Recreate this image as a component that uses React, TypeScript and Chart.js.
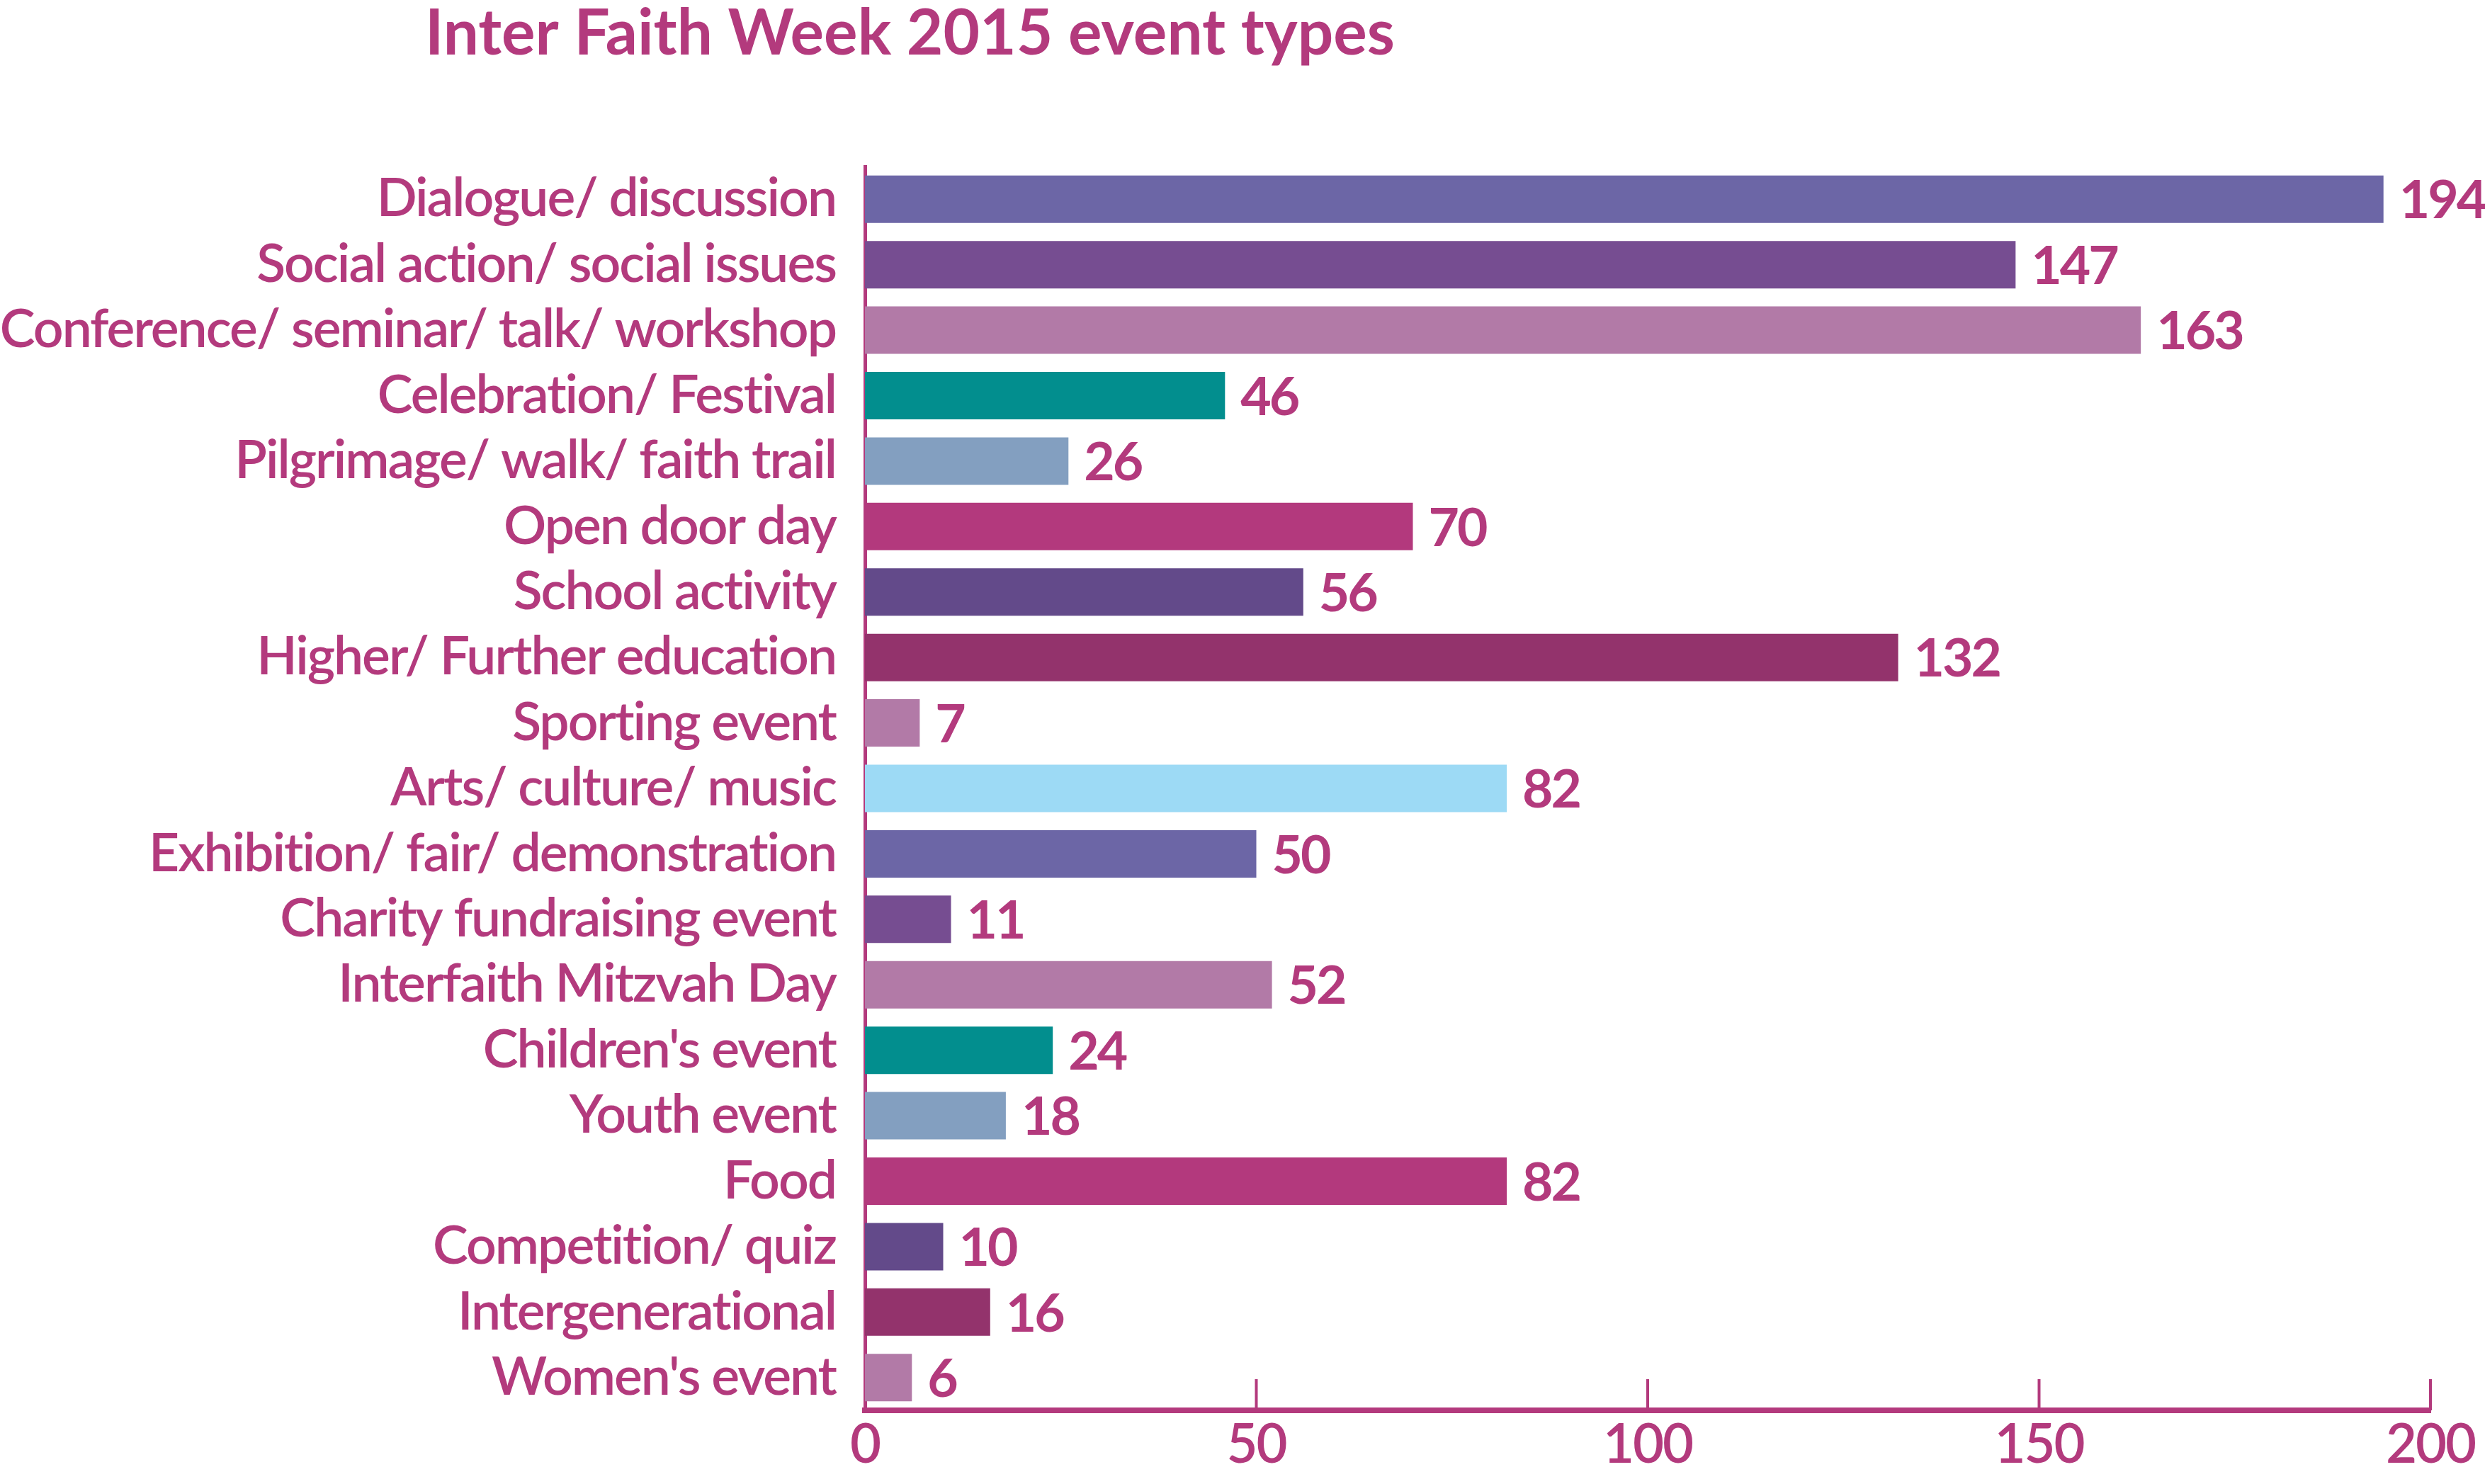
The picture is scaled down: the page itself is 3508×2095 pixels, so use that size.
import { useEffect, useRef } from 'react';
import { Chart, registerables } from 'chart.js';

Chart.register(...registerables);

const titleText = 'Inter Faith Week 2015 event types';

const categories = [
  'Dialogue/ discussion',
  'Social action/ social issues',
  'Conference/ seminar/ talk/ workshop',
  'Celebration/ Festival',
  'Pilgrimage/ walk/ faith trail',
  'Open door day',
  'School activity',
  'Higher/ Further education',
  'Sporting event',
  'Arts/ culture/ music',
  'Exhibition/ fair/ demonstration',
  'Charity fundraising event',
  'Interfaith Mitzvah Day',
  "Children's event",
  'Youth event',
  'Food',
  'Competition/ quiz',
  'Intergenerational',
  "Women's event",
];

const values = [194, 147, 163, 46, 26, 70, 56, 132, 7, 82, 50, 11, 52, 24, 18, 82, 10, 16, 6];

const barColors = [
  '#6C66A6', '#764D91', '#B27AA7', '#028E8E', '#839FC0', '#B3397D', '#634A8A', '#93336C',
  '#B27AA7', '#9DDAF5', '#6C66A6', '#764D91', '#B27AA7', '#028E8E', '#839FC0', '#B3397D',
  '#634A8A', '#93336C', '#B27AA7',
];

const xTickValues = [0, 50, 100, 150, 200];

const TEXT = '#B33A7D';
const FONT = 'Lato';

const spacingPlugin = {
  id: 'spacing',
  beforeLayout(chart: any) { chart.ctx.letterSpacing = '-2px'; },
  beforeDraw(chart: any) { chart.ctx.letterSpacing = '-2px'; },
};

const titlePlugin = {
  id: 'customTitle',
  afterDraw(chart: any) {
    const ctx = chart.ctx;
    ctx.save();
    ctx.letterSpacing = '0px';
    ctx.font = `700 89px ${FONT}`;
    ctx.fillStyle = TEXT;
    ctx.textAlign = 'left';
    ctx.textBaseline = 'alphabetic';
    ctx.fillText(titleText, 600, 77);
    ctx.restore();
  },
};

const innerTicksPlugin = {
  id: 'innerTicks',
  afterDatasetsDraw(chart: any) {
    const ctx = chart.ctx;
    const xs = chart.scales.x;
    const bottom = chart.chartArea.bottom;
    ctx.save();
    ctx.strokeStyle = TEXT;
    ctx.lineWidth = 4;
    xTickValues.forEach((v) => {
      if (v === 0) return;
      const px = xs.getPixelForValue(v);
      ctx.beginPath();
      ctx.moveTo(px, bottom);
      ctx.lineTo(px, bottom - 44);
      ctx.stroke();
    });
    ctx.restore();
  },
};

const valueLabelPlugin = {
  id: 'valueLabels',
  afterDatasetsDraw(chart: any) {
    const ctx = chart.ctx;
    const meta = chart.getDatasetMeta(0);
    ctx.save();
    ctx.letterSpacing = '-3px';
    ctx.font = `700 75px ${FONT}`;
    ctx.fillStyle = TEXT;
    ctx.textAlign = 'left';
    ctx.textBaseline = 'middle';
    meta.data.forEach((bar: any, i: number) => {
      ctx.fillText(String(values[i]), bar.x + 22, bar.y + 3);
    });
    ctx.restore();
  },
};

export default function App() {
  const ref = useRef<HTMLCanvasElement | null>(null);

  useEffect(() => {
    document.body.style.margin = '0';
    if (!ref.current) return;
    const chart = new Chart(ref.current, {
      type: 'bar',
      data: {
        labels: categories,
        datasets: [
          {
            data: values,
            backgroundColor: barColors,
            borderWidth: 0,
            categoryPercentage: 1,
            barPercentage: 0.725,
          },
        ],
      },
      options: {
        indexAxis: 'y',
        animation: false,
        responsive: false,
        maintainAspectRatio: false,
        layout: { padding: { top: 235, right: 77, left: 0, bottom: 0 } },
        plugins: {
          legend: { display: false },
          title: { display: false },
          tooltip: { enabled: false },
        },
        scales: {
          x: {
            type: 'linear',
            min: 0,
            max: 200,
            afterFit(scale: any) { scale.height = 104; },
            afterBuildTicks(scale: any) { scale.ticks = xTickValues.map((v) => ({ value: v })); },
            grid: { display: false, drawTicks: false },
            border: { display: true, color: TEXT, width: 8 },
            ticks: {
              color: TEXT,
              padding: 4,
              font: { family: FONT, size: 76, weight: 600 },
              maxRotation: 0,
            },
          },
          y: {
            type: 'category',
            afterFit(scale: any) { scale.width = 1221; },
            grid: { display: false, drawTicks: false },
            border: { display: true, color: TEXT, width: 5 },
            ticks: {
              color: TEXT,
              padding: 41,
              autoSkip: false,
              font: { family: FONT, size: 75, weight: 600 },
            },
          },
        },
      },
      plugins: [spacingPlugin, titlePlugin, innerTicksPlugin, valueLabelPlugin],
    });
    return () => chart.destroy();
  }, []);

  return (
    <div style={{ width: 3508, height: 2095, overflow: 'hidden', background: '#fff' }}>
      <canvas ref={ref} width={3508} height={2095} style={{ display: 'block' }} />
    </div>
  );
}
